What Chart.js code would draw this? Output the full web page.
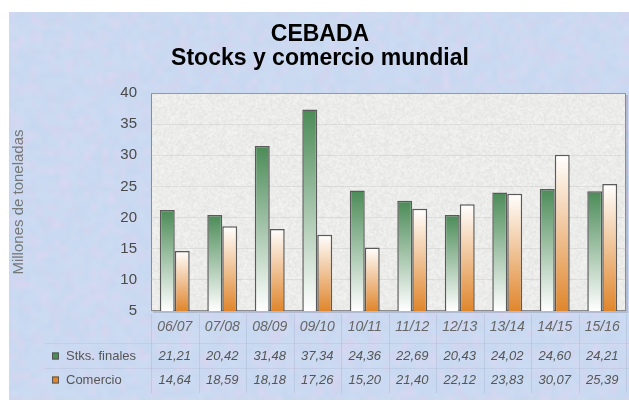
<!DOCTYPE html>
<html>
<head>
<meta charset="utf-8">
<script src="https://cdn.jsdelivr.net/npm/chart.js@4.4.1/dist/chart.umd.min.js"></script>
<style>
  html, body { margin: 0; padding: 0; background: #fff; }
  #wrap { width: 629px; height: 402px; position: relative; }
</style>
</head>
<body>
<div id="wrap"><canvas id="chart" width="629" height="402"></canvas></div>
<script>
  const titleLines = ['CEBADA', 'Stocks y comercio mundial'];
  const yAxisTitle = 'Millones de toneladas';
  const categories = ['06/07', '07/08', '08/09', '09/10', '10/11', '11/12', '12/13', '13/14', '14/15', '15/16'];
  const seriesLabels = ['Stks. finales', 'Comercio'];
  const stocksFinales = [21.21, 20.42, 31.48, 37.34, 24.36, 22.69, 20.43, 24.02, 24.60, 24.21];
  const comercio = [14.64, 18.59, 18.18, 17.26, 15.20, 21.40, 22.12, 23.83, 30.07, 25.39];
  const yMin = 5;
  const yMax = 40;
  const yStep = 5;

  const GREEN = '#4b8b57';
  const ORANGE = '#e0862c';
  const FONT = '"Liberation Sans", Arial, sans-serif';

  // deterministic hash used only for the paper texture
  function hash(x, y) {
    const s = Math.sin(x * 12.9898 + y * 78.233) * 43758.5453;
    return s - Math.floor(s);
  }

  function makeTexture(w, h, cell, colorFn) {
    const small = document.createElement('canvas');
    small.width = Math.ceil(w / cell);
    small.height = Math.ceil(h / cell);
    const sctx = small.getContext('2d');
    const img = sctx.createImageData(small.width, small.height);
    for (let y = 0; y < small.height; y++) {
      for (let x = 0; x < small.width; x++) {
        const [r, g, b] = colorFn(x, y);
        const i = (y * small.width + x) * 4;
        img.data[i] = r; img.data[i + 1] = g; img.data[i + 2] = b; img.data[i + 3] = 255;
      }
    }
    sctx.putImageData(img, 0, 0);
    const big = document.createElement('canvas');
    big.width = w; big.height = h;
    const bctx = big.getContext('2d');
    bctx.imageSmoothingEnabled = true;
    bctx.drawImage(small, 0, 0, w, h);
    return big;
  }

  const blotches = makeTexture(629, 402, 6, (x, y) => {
    const p = hash(x + 3.3, y * 1.7 + 11.1);
    const q = hash(x * 0.5 + 1.9, y + 4.4);
    const pink = p > 0.55 ? (p - 0.55) * 1.6 : 0;
    return [
      Math.round(198 + 20 * pink + 6 * q),
      Math.round(216 - 6 * pink + 4 * q),
      Math.round(240 - 2 * pink + 3 * q)
    ];
  });

  const fine = makeTexture(629, 402, 2, (x, y) => {
    const a = hash(x * 1.1, y * 0.9);
    const v = Math.round(-10 + 20 * a);
    return [128 + v, 128 + v, 128 + v];
  });

  const grain = makeTexture(480, 230, 1.5, (x, y) => {
    const v = Math.round(228 + 16 * hash(x * 0.7, y * 1.1));
    return [v, v, v - 1];
  });

  function barGradient(context, topColor, bottomColor) {
    const chart = context.chart;
    const { chartArea, scales } = chart;
    if (!chartArea || context.type !== 'data') return topColor;
    const top = scales.y.getPixelForValue(context.raw);
    const bottom = chartArea.bottom;
    const g = chart.ctx.createLinearGradient(0, top, 0, bottom);
    g.addColorStop(0, topColor);
    g.addColorStop(1, bottomColor);
    return g;
  }

  function fmt(v) {
    return v.toFixed(2).replace('.', ',');
  }

  const backdropPlugin = {
    id: 'backdrop',
    beforeDraw(chart) {
      const { ctx, chartArea: a } = chart;
      ctx.save();
      ctx.fillStyle = '#fff';
      ctx.fillRect(0, 0, chart.width, chart.height);
      ctx.drawImage(blotches, 9, 12, 620, 388, 9, 12, 620, 388);
      ctx.globalAlpha = 0.15;
      ctx.globalCompositeOperation = 'overlay';
      ctx.drawImage(fine, 9, 12, 620, 388, 9, 12, 620, 388);
      ctx.globalAlpha = 1;
      ctx.globalCompositeOperation = 'source-over';

      // plot panel
      ctx.fillStyle = 'rgba(120,120,140,0.3)';
      ctx.fillRect(a.left + 2, a.top + 2, a.width, a.height);
      ctx.drawImage(grain, 0, 0, a.width, a.height, a.left, a.top, a.width, a.height);
      ctx.strokeStyle = '#8c8c8c';
      ctx.lineWidth = 1;
      ctx.strokeRect(a.left + 0.5, a.top + 0.5, a.width - 1, a.height - 1);

      // title
      ctx.fillStyle = '#000';
      ctx.textAlign = 'center';
      ctx.textBaseline = 'alphabetic';
      ctx.font = 'bold 23px ' + FONT;
      ctx.fillText(titleLines[0], 320, 41);
      ctx.fillText(titleLines[1], 320, 65);
      ctx.restore();
    },
    afterDraw(chart) {
      const { ctx, scales } = chart;
      const x = scales.x;
      const rows = [
        { label: seriesLabels[0], values: stocksFinales, color: GREEN, y: 356 },
        { label: seriesLabels[1], values: comercio, color: ORANGE, y: 380 }
      ];
      ctx.save();
      // faint column separators
      ctx.strokeStyle = 'rgba(150,160,190,0.28)';
      ctx.lineWidth = 1;
      const half = (x.getPixelForValue(1) - x.getPixelForValue(0)) / 2;
      for (let i = 0; i <= categories.length; i++) {
        const px = Math.round(x.getPixelForValue(i) - half) + 0.5;
        ctx.beginPath();
        ctx.moveTo(px, 314);
        ctx.lineTo(px, 393);
        ctx.stroke();
      }
      ctx.strokeStyle = 'rgba(150,160,190,0.18)';
      ctx.beginPath();
      ctx.moveTo(45, 343.5); ctx.lineTo(629, 343.5);
      ctx.moveTo(45, 368.5); ctx.lineTo(629, 368.5);
      ctx.stroke();

      ctx.textBaseline = 'middle';
      rows.forEach(row => {
        ctx.fillStyle = row.color;
        ctx.fillRect(52, row.y - 3.5, 7, 7);
        ctx.strokeStyle = '#555';
        ctx.strokeRect(52.5, row.y - 3, 6, 6);
        ctx.fillStyle = '#555';
        ctx.textAlign = 'left';
        ctx.font = '13px ' + FONT;
        ctx.fillText(row.label, 66, row.y);
        ctx.textAlign = 'center';
        ctx.font = 'italic 13px ' + FONT;
        row.values.forEach((v, i) => {
          ctx.fillText(fmt(v), x.getPixelForValue(i), row.y);
        });
      });
      ctx.restore();
    }
  };

  new Chart(document.getElementById('chart').getContext('2d'), {
    type: 'bar',
    data: {
      labels: categories,
      datasets: [
        {
          label: seriesLabels[0],
          data: stocksFinales,
          backgroundColor: c => barGradient(c, GREEN, '#ffffff'),
          borderColor: '#5a5a5a',
          borderWidth: 1.5,
          borderSkipped: false,
          categoryPercentage: 0.63,
          barPercentage: 1
        },
        {
          label: seriesLabels[1],
          data: comercio,
          backgroundColor: c => barGradient(c, '#ffffff', ORANGE),
          borderColor: '#5a5a5a',
          borderWidth: 1.5,
          borderSkipped: false,
          categoryPercentage: 0.63,
          barPercentage: 1
        }
      ]
    },
    options: {
      responsive: false,
      animation: false,
      events: [],
      layout: {
        padding: { top: 93, right: 3, bottom: 65, left: 10 }
      },
      scales: {
        x: {
          grid: { display: false, drawTicks: false },
          border: { display: false },
          ticks: {
            color: '#666',
            padding: 8,
            font: { family: FONT, size: 14, style: 'italic' }
          },
          afterFit: s => { s.height = 26; }
        },
        y: {
          min: yMin,
          max: yMax,
          grid: { color: 'rgba(185,185,185,0.3)', drawTicks: false },
          border: { display: false },
          ticks: {
            stepSize: yStep,
            color: '#4a4a4a',
            padding: 14,
            font: { family: FONT, size: 15 }
          },
          title: {
            display: true,
            text: yAxisTitle,
            color: '#777',
            padding: 0,
            font: { family: FONT, size: 15 }
          },
          afterFit: s => { s.width = 141; }
        }
      },
      plugins: {
        legend: { display: false },
        title: { display: false },
        tooltip: { enabled: false }
      }
    },
    plugins: [backdropPlugin]
  });
</script>
</body>
</html>
